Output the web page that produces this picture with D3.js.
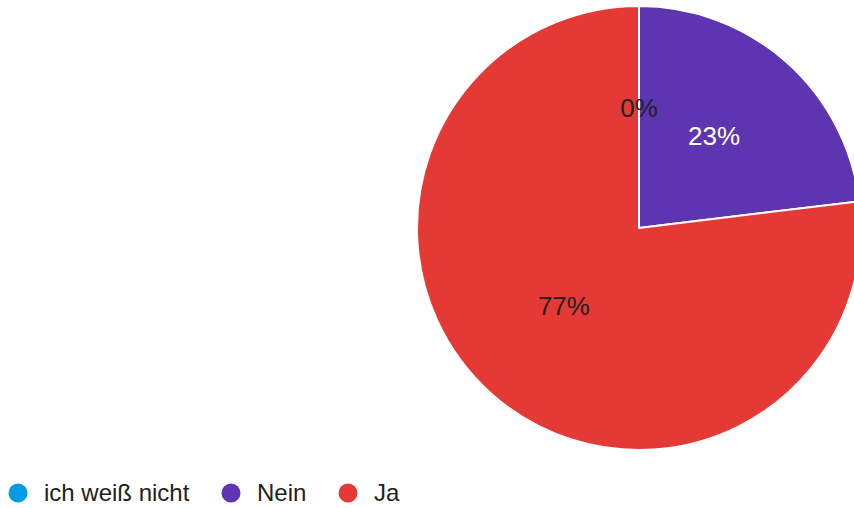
<!DOCTYPE html>
<html><head><meta charset="utf-8">
<script src="https://cdn.jsdelivr.net/npm/d3@7"></script>
<style>html,body{margin:0;padding:0;background:#fff;}svg{display:block;font-family:"Liberation Sans",Arial,sans-serif;}</style>
</head><body><svg id="c" width="854" height="508"></svg>
<script>
const categories = ["ich weiß nicht", "Nein", "Ja"];
const counts = [0, 3, 10];
const colors = ["#039be5", "#5e35b1", "#e53935"];
const labelColors = ["#212121", "#ffffff", "#212121"];

const svg = d3.select("#c");
const cx = 639, cy = 228, r = 222;
const total = d3.sum(counts);
const data = categories.map((c, i) => ({cat: c, value: counts[i], i}));
const pie = d3.pie().sort(null).value(d => d.value);
const arcs = pie(data);
const arc = d3.arc().innerRadius(0).outerRadius(r);
const g = svg.append("g").attr("transform", `translate(${cx},${cy})`);
g.selectAll("path").data(arcs).enter().append("path")
  .attr("d", arc).attr("fill", d => colors[d.data.i])
  .attr("stroke", "#fff").attr("stroke-width", 2).attr("stroke-linejoin", "round");
const labelArc = d3.arc().innerRadius(r * 1.02).outerRadius(0);
const fmt = d3.format(".0%");
g.selectAll("text").data(arcs).enter().append("text")
  .attr("transform", d => `translate(${labelArc.centroid(d)})`)
  .attr("text-anchor", "middle").attr("dy", "0.08em")
  .attr("font-size", 26).attr("fill", d => labelColors[d.data.i])
  .text(d => fmt(d.data.value / total));

const legendX = [18, 231, 348];
const lg = svg.append("g").attr("transform", "translate(0,493)");
categories.forEach((c, i) => {
  lg.append("circle").attr("cx", legendX[i]).attr("cy", 0).attr("r", 9.5).attr("fill", colors[i]);
  lg.append("text").attr("x", legendX[i] + 26).attr("y", 0).attr("dy", "0.35em")
    .attr("font-size", 24).attr("fill", "#212121").text(c);
});
</script></body></html>
